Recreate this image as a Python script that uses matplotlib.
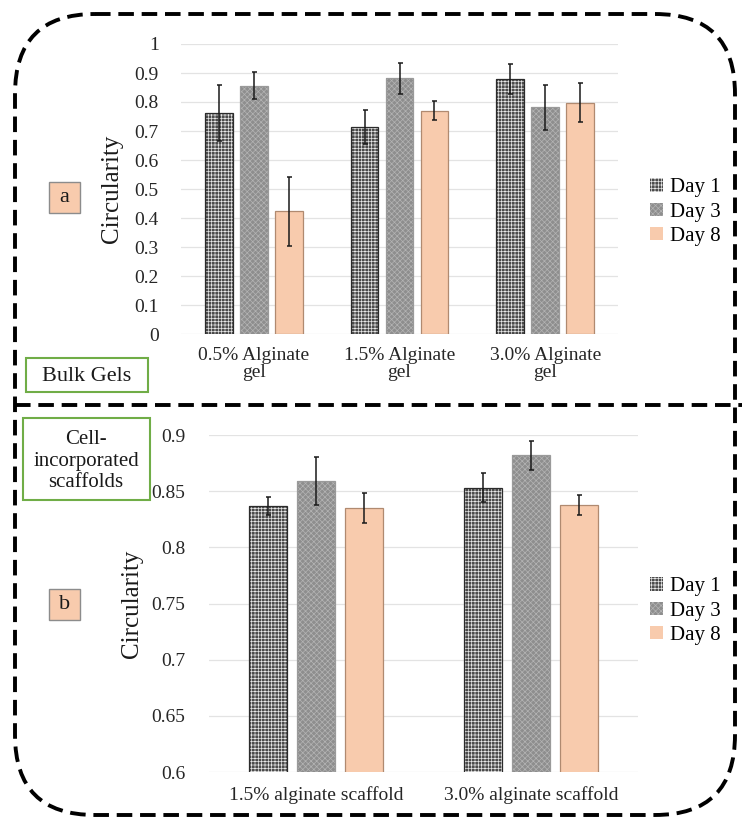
import numpy as np
import matplotlib
matplotlib.use('Agg')
import matplotlib.pyplot as plt
from matplotlib.patches import FancyBboxPatch, Rectangle

plt.rcParams['font.family'] = ['Liberation Serif', 'DejaVu Serif']
plt.rcParams['hatch.linewidth'] = 0.5

days = ['Day 1', 'Day 3', 'Day 8']

# panel a: bulk gels
bulk_groups = ['0.5% Alginate\ngel', '1.5% Alginate\ngel', '3.0% Alginate\ngel']
bulk_mean = {'Day 1': [0.763, 0.713, 0.879],
             'Day 3': [0.856, 0.882, 0.782],
             'Day 8': [0.423, 0.770, 0.798]}
bulk_err = {'Day 1': [0.097, 0.058, 0.051],
            'Day 3': [0.046, 0.054, 0.077],
            'Day 8': [0.119, 0.033, 0.066]}
bulk_ticks = [0, 0.1, 0.2, 0.3, 0.4, 0.5, 0.6, 0.7, 0.8, 0.9, 1]
bulk_ticklabels = ['0', '0.1', '0.2', '0.3', '0.4', '0.5', '0.6', '0.7', '0.8', '0.9', '1']

# panel b: cell-incorporated scaffolds
scaf_groups = ['1.5% alginate scaffold', '3.0% alginate scaffold']
scaf_mean = {'Day 1': [0.837, 0.853],
             'Day 3': [0.859, 0.882],
             'Day 8': [0.835, 0.838]}
scaf_err = {'Day 1': [0.008, 0.013],
            'Day 3': [0.021, 0.013],
            'Day 8': [0.013, 0.009]}
scaf_ticks = [0.6, 0.65, 0.7, 0.75, 0.8, 0.85, 0.9]
scaf_ticklabels = ['0.6', '0.65', '0.7', '0.75', '0.8', '0.85', '0.9']

styles = {
    'Day 1': dict(facecolor='#4a4a4a', edgecolor='#e6e6e6', hatch='+++++', outline='#2b2b2b'),
    'Day 3': dict(facecolor='#8e8e8e', edgecolor='#b4b4b4', hatch='xxxxxx', outline='#9a9a9a'),
    'Day 8': dict(facecolor='#f8cbad', edgecolor='#f8cbad', hatch=None, outline='#b08a70'),
}

W, H = 742, 822
fig = plt.figure(figsize=(W / 100, H / 100), dpi=100)


def px_axes(x0, y0, x1, y1):
    # pixel box (top-left origin) -> figure fraction axes
    return fig.add_axes([x0 / W, 1 - y1 / H, (x1 - x0) / W, (y1 - y0) / H])


def draw_panel(ax, groups, means, errs, width, step, ylim, ticks, ticklabels,
               tickpad, xpad, ylabelpad, legend_y):
    x = np.arange(len(groups))
    for i, d in enumerate(days):
        st = styles[d]
        pos = x + (i - 1) * step
        ax.bar(pos, means[d], width, bottom=0, color=st['facecolor'],
               edgecolor=st['edgecolor'], hatch=st['hatch'], linewidth=0,
               label=d, zorder=2)
        ax.bar(pos, means[d], width, fill=False, edgecolor=st['outline'],
               linewidth=0.9, zorder=3)
        ax.errorbar(pos, means[d], yerr=errs[d], fmt='none', ecolor='#1a1a1a',
                    elinewidth=1.1, capsize=1.8, capthick=1.1, zorder=4)
    ax.set_ylim(*ylim)
    ax.set_xlim(-0.5, len(groups) - 0.5)
    ax.set_yticks(ticks)
    ax.set_yticklabels(ticklabels)
    ax.set_xticks(x)
    ax.set_xticklabels(groups, linespacing=1.05)
    ax.tick_params(axis='both', length=0, labelsize=14, colors='#262626')
    ax.tick_params(axis='y', pad=tickpad)
    ax.tick_params(axis='x', pad=xpad)
    ax.grid(axis='y', color='#e3e3e3', linewidth=0.9, zorder=0)
    ax.set_axisbelow(True)
    for s in ax.spines.values():
        s.set_visible(False)
    ax.set_facecolor('none')
    ax.set_ylabel('Circularity', fontsize=18, labelpad=ylabelpad, color='#1a1a1a')
    ax.legend(loc='center left', bbox_to_anchor=(640 / W, 1 - legend_y / H),
              bbox_transform=fig.transFigure, frameon=False, fontsize=15,
              handlelength=0.6, handleheight=0.6, handletextpad=0.35,
              labelspacing=0.25, borderpad=0)


ax_a = px_axes(181, 44, 618, 334)
draw_panel(ax_a, bulk_groups, bulk_mean, bulk_err, 0.19, 0.24, (0, 1),
           bulk_ticks, bulk_ticklabels, 16, 9, 8, 212)

ax_b = px_axes(209, 435, 638, 772)
draw_panel(ax_b, scaf_groups, scaf_mean, scaf_err, 0.177, 0.223, (0.6, 0.9),
           scaf_ticks, scaf_ticklabels, 17, 10, 6, 611)

# overlay in pixel coordinates for the frame and the tags
ov = fig.add_axes([0, 0, 1, 1], zorder=10)
ov.set_xlim(0, W)
ov.set_ylim(H, 0)
ov.axis('off')

dash = (0, (4, 2))
ov.add_patch(FancyBboxPatch((15, 14), 720, 801,
                            boxstyle='round,pad=0,rounding_size=80',
                            fill=False, edgecolor='black', linewidth=2.8,
                            linestyle=dash))
ov.plot([15, 742], [405, 405], color='black', linewidth=2.8, linestyle=dash)

ov.add_patch(Rectangle((26, 358), 122, 34, fill=False, edgecolor='#70ad47', linewidth=1.5))
ov.text(87, 376, 'Bulk Gels', ha='center', va='center', fontsize=16, color='#1a1a1a')
ov.add_patch(Rectangle((23, 418), 127, 82, fill=False, edgecolor='#70ad47', linewidth=1.5))
ov.text(86, 461, 'Cell-\nincorporated\nscaffolds', ha='center', va='center',
        fontsize=15, linespacing=1.15, color='#1a1a1a')

for label, cy in [('a', 198), ('b', 605)]:
    ov.add_patch(Rectangle((49, cy - 16), 31, 31, facecolor='#f8cbad',
                           edgecolor='#8c8c8c', linewidth=1))
    ov.text(64.5, cy - 1, label, ha='center', va='center', fontsize=16, color='#1a1a1a')

fig.savefig('out.png', dpi=100)
